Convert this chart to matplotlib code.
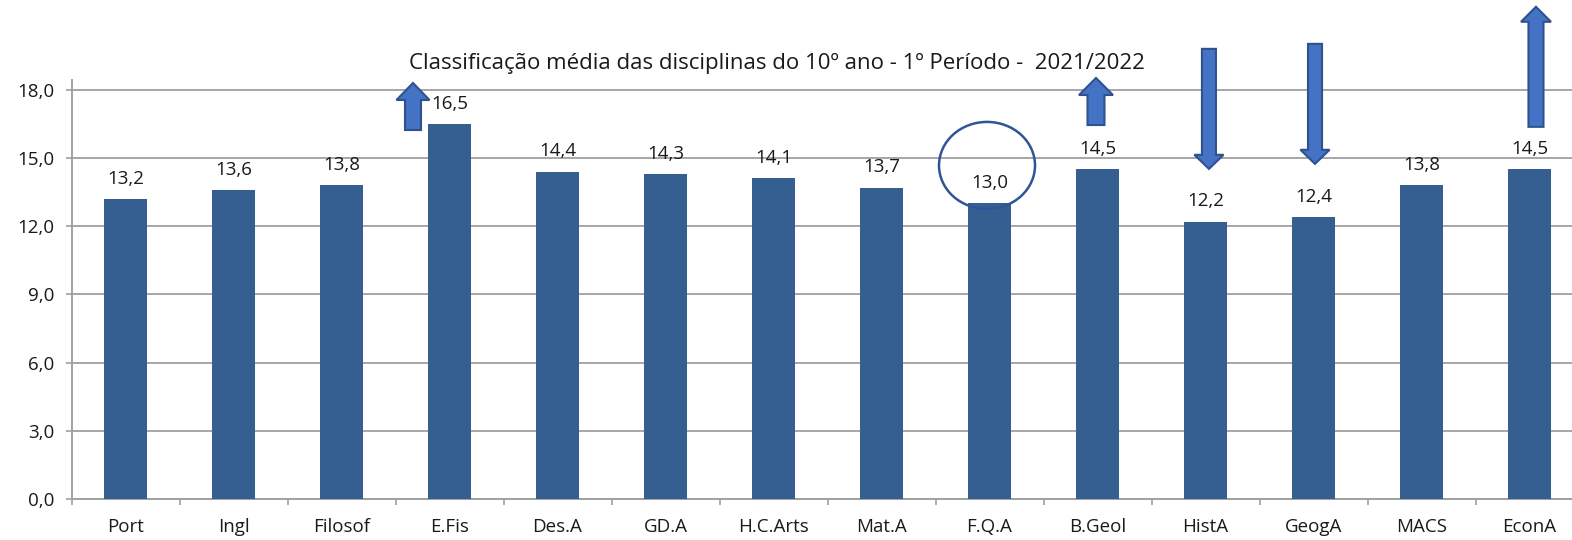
import matplotlib
matplotlib.use("Agg")
import matplotlib.pyplot as plt
from matplotlib.patches import FancyArrow, Ellipse
from matplotlib.ticker import FixedLocator

plt.rcParams['font.family'] = ['Open Sans', 'DejaVu Sans']

categories = ["Port", "Ingl", "Filosof", "E.Fis", "Des.A", "GD.A", "H.C.Arts",
              "Mat.A", "F.Q.A", "B.Geol", "HistA", "GeogA", "MACS", "EconA"]
values = [13.2, 13.6, 13.8, 16.5, 14.4, 14.3, 14.1, 13.7, 13.0, 14.5, 12.2, 12.4, 13.8, 14.5]
yticks = [0, 3, 6, 9, 12, 15, 18]
title = "Classificação média das disciplinas do 10º ano - 1º Período -  2021/2022"

W, H = 1572, 540
fig = plt.figure(figsize=(W / 100, H / 100), dpi=100)
ax = fig.add_axes([71.5 / W, 41 / H, (W - 71.5) / W, 419 / H])

bar_color = "#365F91"
x = list(range(len(categories)))
ax.bar(x, values, width=0.40, color=bar_color, zorder=3)

LBL = 13.5
for xi, v in zip(x, values):
    ax.annotate(f"{v:.1f}".replace(".", ","), (xi, v), xytext=(0, 14.5),
                textcoords="offset points", ha="center", va="center",
                fontsize=LBL, color="#1a1a1a", zorder=4)

ax.set_ylim(0, 18.43)
ax.set_xlim(-0.5, -0.5 + (W - 71.5) / 108)
ax.set_yticks(yticks)
ax.set_yticklabels([f"{t:.1f}".replace(".", ",") for t in yticks])
ax.set_xticks(x)
ax.set_xticklabels(categories)
ax.xaxis.set_minor_locator(FixedLocator([i - 0.5 for i in range(len(categories) + 1)]))
ax.tick_params(axis="x", which="major", length=0, pad=14, labelsize=LBL, labelcolor="#1a1a1a")
ax.tick_params(axis="x", which="minor", length=4, width=1.2, color="#A0A0A0")
ax.tick_params(axis="y", length=4.5, width=1.2, color="#A0A0A0", pad=8, labelsize=LBL,
               labelcolor="#1a1a1a")
ax.grid(axis="y", color="#A6A6A6", lw=1.4, zorder=0)
for s in ["top", "right"]:
    ax.spines[s].set_visible(False)
for s in ["left", "bottom"]:
    ax.spines[s].set_color("#A0A0A0")
    ax.spines[s].set_linewidth(1.4)

fig.text(777 / W, 1 - 63 / H, title, ha="center", va="center", fontsize=16, color="#1a1a1a")

# arrows: (x, y_start, dy, shaft width, head width, head length)
arrows = [
    (2.662, 16.23, 2.07, 0.148, 0.306, 0.75),
    (8.986, 16.45, 2.07, 0.157, 0.315, 0.75),
    (10.032, 19.80, -5.28, 0.13, 0.27, 0.62),
    (11.014, 20.02, -5.28, 0.13, 0.27, 0.62),
    (13.06, 16.37, 5.28, 0.139, 0.278, 0.66),
]
for ax_x, y0, dy, w, hw, hl in arrows:
    a = FancyArrow(ax_x, y0, 0, dy, width=w, head_width=hw, head_length=hl,
                   length_includes_head=True, facecolor="#4472C4", edgecolor="#2F528F",
                   linewidth=1.5, clip_on=False, zorder=5)
    ax.add_patch(a)

circ = Ellipse((8.0 - 0.023, (499 - 165.5) / 22.73), width=96 / 108, height=87 / 22.73,
               fill=False, edgecolor="#2F5597", linewidth=1.8, clip_on=False, zorder=5)
ax.add_patch(circ)

fig.savefig("out.png", dpi=100)
